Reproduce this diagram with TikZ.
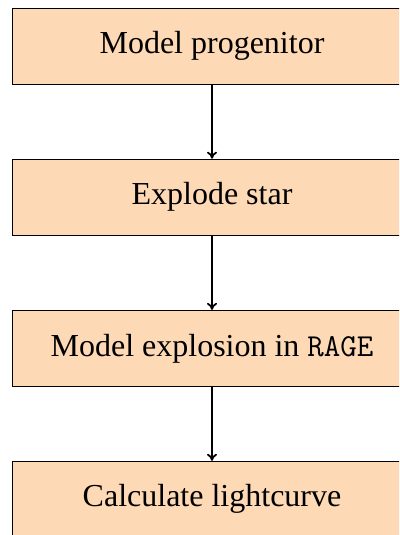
\documentclass[tikz,border=0pt]{standalone}
\usepackage{fontspec}
\setmainfont{Liberation Serif}
\usetikzlibrary{arrows.meta}
\definecolor{boxfill}{RGB}{253,217,181}
\tikzset{
  stepbox/.style={draw=black, line width=1pt, fill=boxfill, minimum width=400pt, minimum height=76pt, inner sep=0pt, font=\fontsize{32}{38}\selectfont},
  flow/.style={line width=1.8pt, -{To[length=7pt,width=10pt]}}
}
\begin{document}
\begin{tikzpicture}[x=1pt,y=1pt]
\useasboundingbox (0,0) rectangle (399,-535);
\clip (0,0) rectangle (399,-535);
\node[stepbox] (a) at (212,-46.2) {Model progenitor};
\node[stepbox] (b) at (212,-197.2) {Explode star};
\node[stepbox] (c) at (212,-348.4) {Model explosion in \texttt{RAGE}};
\node[stepbox] (d) at (212,-499.3) {Calculate lightcurve};
\draw[flow] (a) -- (b);
\draw[flow] (b) -- (c);
\draw[flow] (c) -- (d);
\end{tikzpicture}
\end{document}
